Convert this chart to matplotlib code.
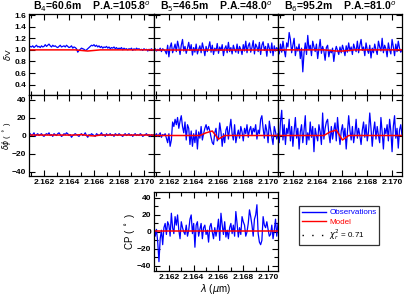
import numpy as np
import matplotlib
matplotlib.use("Agg")
import matplotlib.pyplot as plt
from matplotlib.lines import Line2D
from matplotlib.ticker import MultipleLocator

plt.rcParams['font.family'] = ['Liberation Sans', 'DejaVu Sans']
plt.rcParams['mathtext.fontset'] = 'dejavusans'

# ---------------- data ----------------
wl = np.linspace(2.1608, 2.1708, 101)

titles = [r"B$_4$=60.6m    P.A.=105.8$^o$",
          r"B$_5$=46.5m    P.A.=48.0$^o$",
          r"B$_6$=95.2m    P.A.=81.0$^o$"]

v1 = [1.04,1.06,1.05,1.07,1.04,1.06,1.08,1.05,1.06,1.04,
      1.07,1.05,1.06,1.09,1.06,1.08,1.10,1.07,1.05,1.08,
      1.06,1.07,1.05,1.04,1.06,1.08,1.05,1.06,1.07,1.05,
      1.08,1.06,1.04,1.05,1.07,1.03,1.05,1.04,1.02,0.96,
      0.99,1.01,1.03,1.02,1.01,0.99,1.00,1.02,1.04,1.06,
      1.08,1.07,1.09,1.06,1.08,1.05,1.07,1.04,1.06,1.03,
      1.05,1.04,1.06,1.03,1.05,1.02,1.04,1.03,1.05,1.02,
      1.04,1.01,1.03,1.02,1.04,1.00,1.03,1.01,1.02,1.00,
      1.02,1.01,1.03,0.99,1.02,1.00,1.03,1.01,1.02,1.00,
      1.01,0.99,1.02,1.00,1.01,0.98,1.01,1.00,1.02,0.99,1.00]

v2 = [1.00,1.02,0.98,1.01,0.99,1.03,0.97,1.02,1.00,0.98,
      0.93,1.08,0.88,1.05,1.12,0.95,1.02,1.10,0.97,1.15,
      1.05,0.92,1.08,1.18,0.98,1.06,0.94,1.03,1.13,0.99,
      1.09,0.91,1.04,0.96,1.10,0.93,1.01,1.07,0.95,1.12,
      1.02,0.90,1.06,0.97,1.04,1.14,0.96,1.08,0.92,1.03,
      0.98,1.11,0.94,1.05,0.99,1.09,0.90,1.02,1.07,0.95,
      1.13,0.97,1.04,0.93,1.08,1.00,0.96,1.10,0.94,1.06,
      1.01,0.92,1.09,0.98,1.15,0.95,1.07,1.12,0.96,1.04,
      1.16,0.93,1.10,1.05,0.97,1.13,0.92,1.08,1.14,0.99,
      1.06,0.89,1.11,1.03,0.95,1.12,0.90,1.07,0.98,1.04,1.00]

v3 = [1.02,0.93,1.10,0.96,1.15,1.00,0.88,1.12,1.05,1.30,
      1.18,0.95,1.08,1.20,0.90,1.05,0.98,1.10,0.85,1.03,
      0.62,0.95,1.12,0.92,1.25,1.00,1.08,0.90,1.15,1.05,
      0.97,1.10,0.85,1.02,1.18,0.94,1.06,0.98,0.82,1.04,
      1.08,0.88,1.00,0.95,1.03,0.80,0.97,1.06,0.99,0.92,
      1.05,0.95,1.08,1.00,0.90,1.07,0.96,1.12,0.98,1.05,
      0.92,1.10,1.02,0.97,1.15,0.95,1.08,1.18,0.99,1.05,
      0.90,1.12,1.00,0.94,1.08,0.86,1.03,0.95,1.10,1.00,
      0.92,1.15,1.05,0.98,1.20,0.95,1.08,1.02,0.88,1.12,
      1.00,0.93,1.18,1.05,0.90,1.10,0.97,1.15,1.03,0.96,1.00]

p1 = [1,2,0,1,3,-1,1,2,0,1,
      2,0,-1,1,2,1,3,0,1,-1,
      2,1,0,2,3,1,-1,0,2,1,
      3,2,0,1,-2,0,1,2,1,0,
      -1,1,2,0,1,3,0,-2,1,0,
      2,1,0,-1,2,1,0,1,3,0,
      1,-1,2,0,1,2,0,1,-1,2,
      1,0,2,1,0,-1,1,2,0,1,
      2,0,1,-1,1,2,0,1,0,2,
      1,-1,0,1,2,0,1,-1,1,0,1]

p2 = [1,0,2,-1,1,3,-2,1,0,2,
      -3,-8,2,-12,-5,15,10,18,12,20,
      8,16,22,10,3,15,-5,12,8,-10,
      5,-12,2,-8,6,-15,4,-3,10,-5,
      2,8,12,6,10,5,-2,-8,-10,3,
      8,-6,-3,14,4,-12,2,-8,6,10,
      -4,8,18,2,-5,12,-8,0,6,-3,
      10,4,-6,8,2,12,-2,6,10,0,
      8,4,12,-4,6,2,18,22,8,-3,
      12,5,-8,16,6,-2,-10,10,4,-4,2]

p3 = [5,-8,15,28,-5,12,-10,8,2,18,
      -6,10,-12,5,20,-3,8,-15,4,12,
      -8,6,22,-10,3,-5,15,-2,10,-18,
      8,0,-6,12,4,-10,25,-4,8,15,
      18,2,-8,10,-4,6,14,-6,20,3,
      -10,5,12,-2,8,-15,4,22,6,-5,
      10,-8,2,18,-3,8,0,-10,6,15,
      -2,12,-6,4,25,8,-12,5,15,-4,
      10,0,-8,20,4,-15,8,2,12,-6,
      18,5,-18,10,22,-3,8,-14,6,12,0]

cp = [8,-5,3,-12,-35,-8,2,-15,5,10,
      -3,12,8,-5,22,5,-2,18,8,20,
      2,-8,12,5,0,-3,8,-5,2,15,
      20,-2,10,-18,8,12,-5,3,10,-8,
      5,8,-3,2,-12,6,10,0,-8,5,
      -5,3,15,-10,22,8,-3,12,-6,2,
      -8,5,10,-2,8,-5,24,10,-6,5,
      -3,18,12,8,-5,0,10,26,18,8,
      -5,15,20,32,-2,-12,-15,-10,18,8,
      5,12,3,-5,-3,8,-8,2,15,-5,10]

# model curves (coarse key points)
mwl = [2.1608, 2.1645, 2.1650, 2.1655, 2.1660, 2.1665, 2.1670, 2.1708]
mv1 = [1.00, 1.00, 0.99, 0.98, 0.99, 1.00, 1.00, 1.00]
mv2 = [1.00, 1.00, 1.00, 1.00, 1.00, 1.00, 1.00, 1.00]
mv3 = [1.00, 1.00, 0.99, 0.98, 0.98, 0.99, 1.00, 1.00]
mp1 = [0.5, 0.5, 1.0, 0.0, -0.5, 0.5, 0.5, 0.5]
mp2 = [0.0, 0.0, 3.0, 5.0, -4.0, 0.0, 0.0, 0.0]
mp3 = [0.0, 0.0, 4.0, 6.0, -5.0, 0.0, 0.0, 0.0]
mcp = [1.0, 1.0, 1.0, 1.0, 1.0, 1.0, 1.0, 1.0]

chi2 = 0.71

# ---------------- figure ----------------
W, H = 407, 295
fig = plt.figure(figsize=(W/100, H/100), dpi=100)

def ax_px(x0, y0, x1, y1):
    return fig.add_axes([x0/W, 1 - y1/H, (x1-x0)/W, (y1-y0)/H])

xs = [(29, 154), (154, 278), (278, 402)]
vs = [v1, v2, v3]
mvs = [mv1, mv2, mv3]
ps = [p1, p2, p3]
mps = [mp1, mp2, mp3]

BLUE = '#0000ff'
RED = '#ff0000'
tfs = 6

def style(ax, xlabels=True, ylabels=True):
    ax.set_xlim(2.1608, 2.1708)
    ax.xaxis.set_major_locator(MultipleLocator(0.002))
    ax.xaxis.set_minor_locator(MultipleLocator(0.001))
    ax.tick_params(which='both', direction='in', top=True, right=True,
                   labelsize=tfs, width=0.8, pad=2)
    ax.tick_params(which='major', length=4)
    ax.tick_params(which='minor', length=3)
    ax.xaxis.set_major_formatter(matplotlib.ticker.FormatStrFormatter('%.3f'))
    if not xlabels:
        ax.tick_params(axis='x', labelbottom=False)
    if not ylabels:
        ax.tick_params(axis='y', labelleft=False)
    for lab in ax.get_xticklabels() + ax.get_yticklabels():
        lab.set_fontweight('bold')
    for s in ax.spines.values():
        s.set_linewidth(0.9)

for i in range(3):
    x0, x1 = xs[i]
    axv = ax_px(x0, 14, x1, 95)
    axv.plot(wl, vs[i], color=BLUE, lw=0.9)
    axv.plot(mwl, mvs[i], color=RED, lw=1.1)
    axv.set_ylim(0.22, 1.62)
    axv.yaxis.set_major_locator(MultipleLocator(0.2))
    style(axv, xlabels=False, ylabels=(i == 0))
    axv.set_title(titles[i], fontsize=7.5, fontweight='bold', pad=2)
    if i == 0:
        axv.set_ylabel(r'$\delta$V', fontsize=6)
        axv.yaxis.set_label_coords(-0.13, 0.5)

    axp = ax_px(x0, 95, x1, 176)
    axp.plot(wl, ps[i], color=BLUE, lw=0.9)
    axp.plot(mwl, mps[i], color=RED, lw=1.1)
    axp.set_ylim(-45, 45)
    axp.yaxis.set_major_locator(MultipleLocator(20))
    style(axp, xlabels=True, ylabels=(i == 0))
    if i == 0:
        axp.set_ylabel(r'$\delta\phi$ ( $^\circ$ )', fontsize=5.5)
        axp.yaxis.set_label_coords(-0.13, 0.5)

axc = ax_px(154, 192, 278, 271)
axc.plot(wl, cp, color=BLUE, lw=0.9)
axc.plot(mwl, mcp, color=RED, lw=1.1)
axc.set_ylim(-46, 47)
axc.yaxis.set_major_locator(MultipleLocator(20))
axc.yaxis.set_minor_locator(MultipleLocator(10))
style(axc)
axc.set_ylabel(r'CP ( $^\circ$ )', fontsize=7)
axc.yaxis.set_label_coords(-0.14, 0.5)
axc.set_xlabel(r'$\lambda$ ($\mu$m)', fontsize=7, labelpad=1)

handles = [Line2D([], [], color=BLUE, lw=1.0),
           Line2D([], [], color=RED, lw=1.0),
           Line2D([], [], color='black', lw=1.0, linestyle=(0, (1, 6)))]
labels = ['Observations', 'Model', r'$\chi_r^2$ = %.2f' % chi2]
leg = fig.legend(handles, labels, loc='upper left',
                 bbox_to_anchor=(299/W, 1 - 206/H), fontsize=5.8,
                 frameon=True, fancybox=False, edgecolor='black',
                 handlelength=3.0, handletextpad=0.4, borderpad=0.35,
                 labelspacing=0.2, borderaxespad=0)
leg.get_frame().set_linewidth(0.9)
for t, c in zip(leg.get_texts(), [BLUE, RED, 'black']):
    t.set_color(c)

fig.savefig('out.png', dpi=100)
